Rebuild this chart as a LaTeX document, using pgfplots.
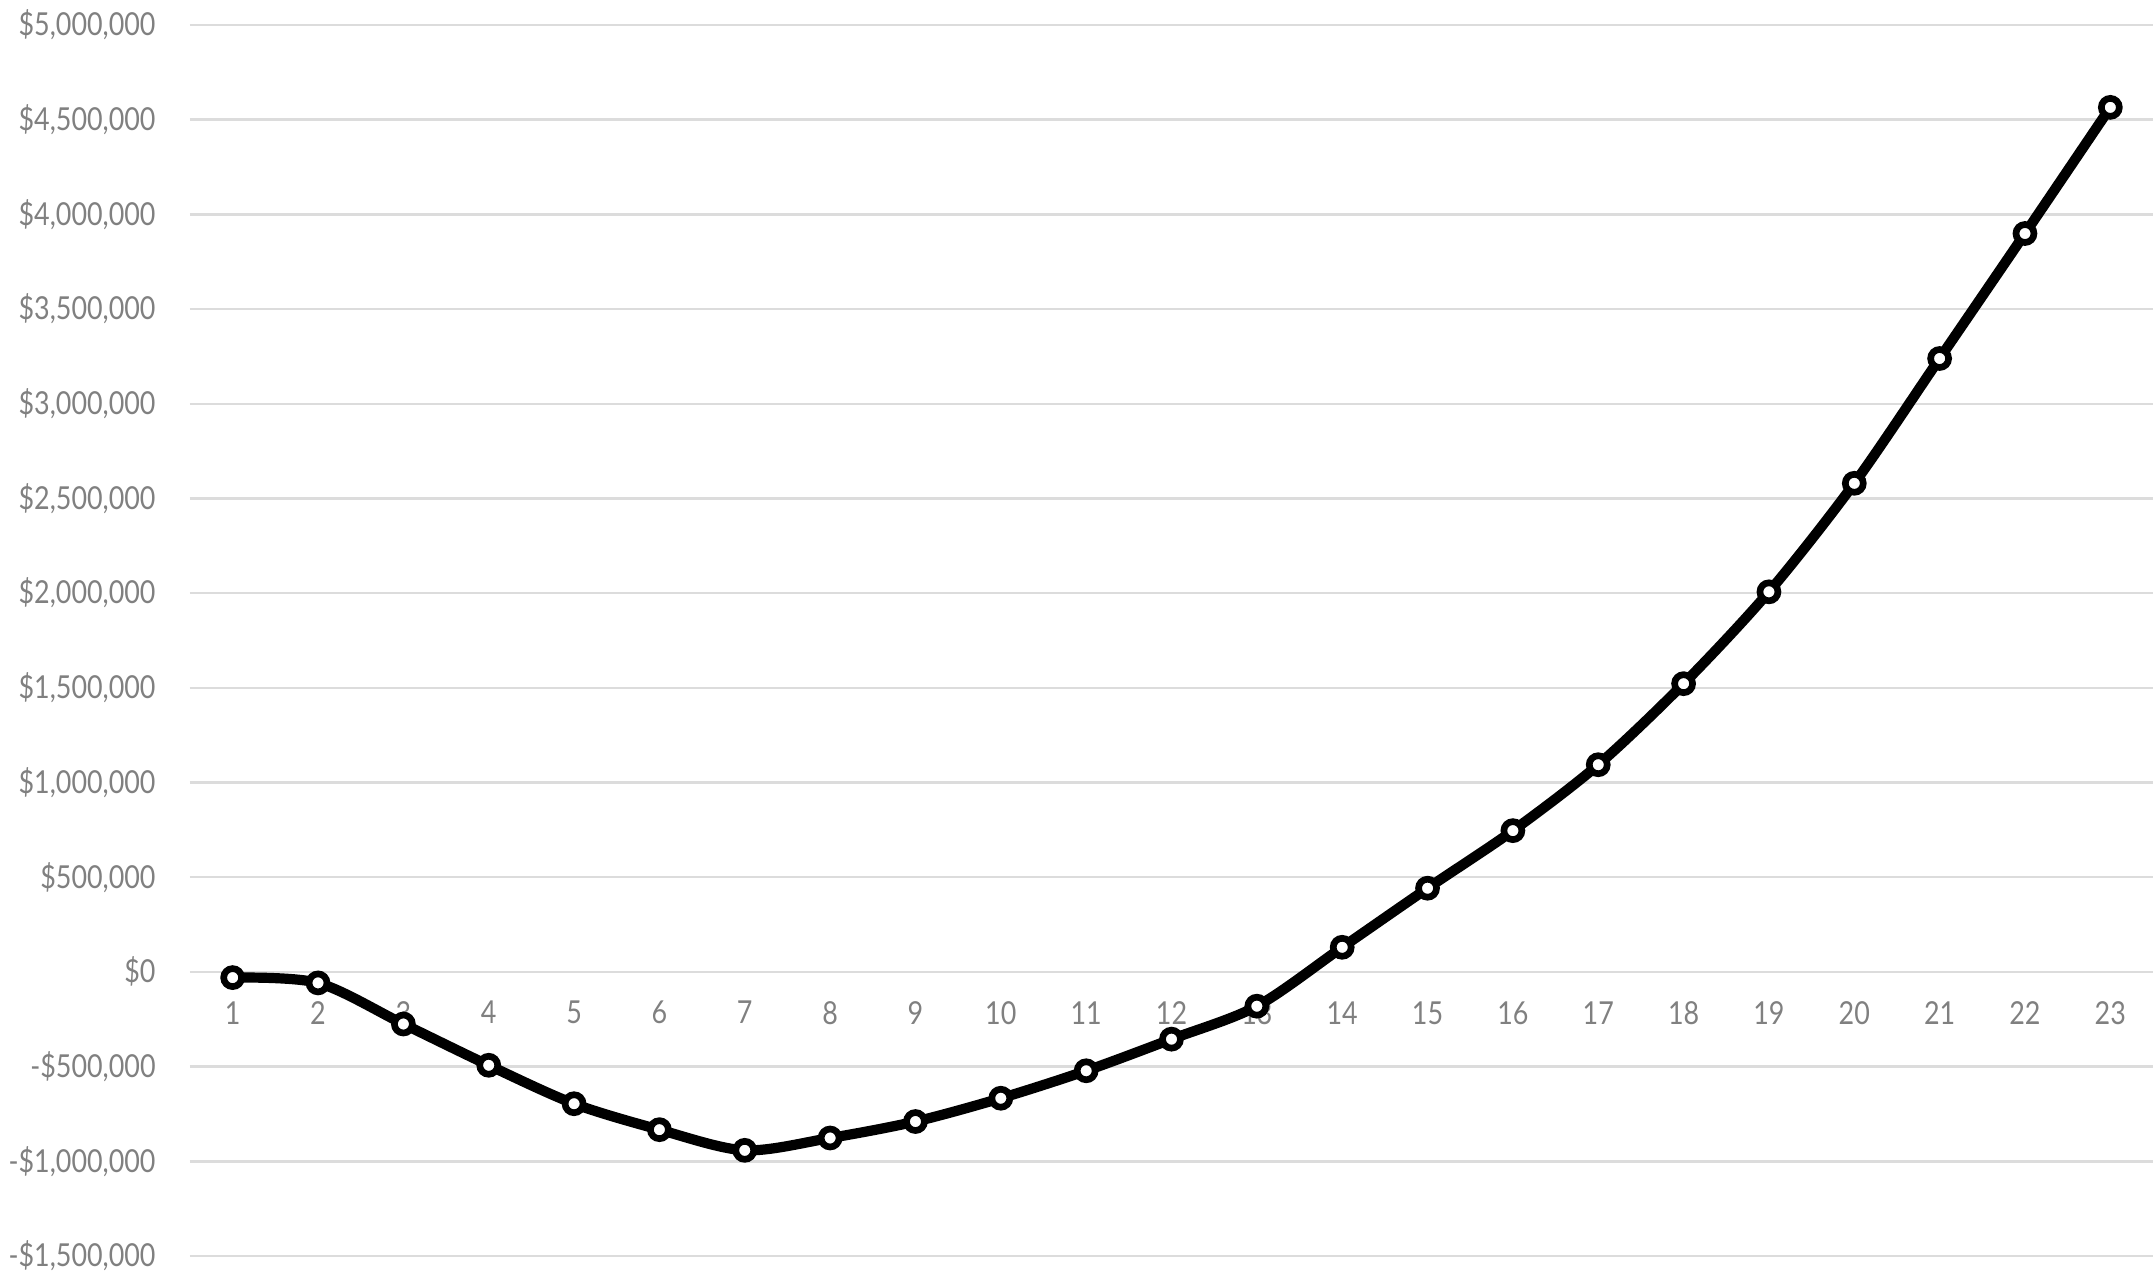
\documentclass[border=0pt]{standalone}
\usepackage{pgfplots}
\pgfplotsset{compat=1.18}
\usepackage{fontspec}
\setmainfont{Lato}[FakeStretch=0.85]
\definecolor{lbl}{HTML}{808080}
\definecolor{grd}{HTML}{DCDCDC}
\pgfplotstableread{
x y
1 -30
2 -58
3 -275
4 -493
5 -696
6 -833
7 -942
8 -877
9 -790
10 -667
11 -522
12 -355
13 -181
14 130
15 442
16 746
17 1094
18 1522
19 2007
20 2580
21 3239
22 3899
23 4565
}\data
\begin{document}
\begin{tikzpicture}
\begin{axis}[
  name=ax,
  set layers,
  scale only axis,
  width=19.63cm, height=12.31cm,
  xmin=0.5, xmax=23.5,
  ymin=-1500, ymax=5000,
  axis x line*=middle,
  axis y line*=left,
  axis line style={draw=none},
  major tick length=0pt,
  xtick={1,...,23},
  ytick={-1500,-1000,...,5000},
  yticklabels={{-\$1,500,000},{-\$1,000,000},{-\$500,000},{\$0},{\$500,000},{\$1,000,000},{\$1,500,000},{\$2,000,000},{\$2,500,000},{\$3,000,000},{\$3,500,000},{\$4,000,000},{\$4,500,000},{\$5,000,000}},
  ymajorgrids,
  grid style={grd, line width=0.7pt},
  /pgf/number format/assume math mode=true,
  ticklabel style={font=\fontsize{9}{10}\selectfont, text=lbl},
  xticklabel style={yshift=-0.17cm},
  yticklabel style={xshift=-0.22cm},
  clip=false,
]
\addplot[black, line width=2.9pt, smooth, mark=*,
  mark options={draw=black, fill=white, line width=1.9pt, scale=1}, mark size=0.09cm]
  table[x=x, y=y] {\data};
\end{axis}
\pgfresetboundingbox
\useasboundingbox ([xshift=-1.9cm,yshift=-0.2cm]ax.south west) rectangle ([yshift=0.25cm]ax.north east);
\end{tikzpicture}
\end{document}
